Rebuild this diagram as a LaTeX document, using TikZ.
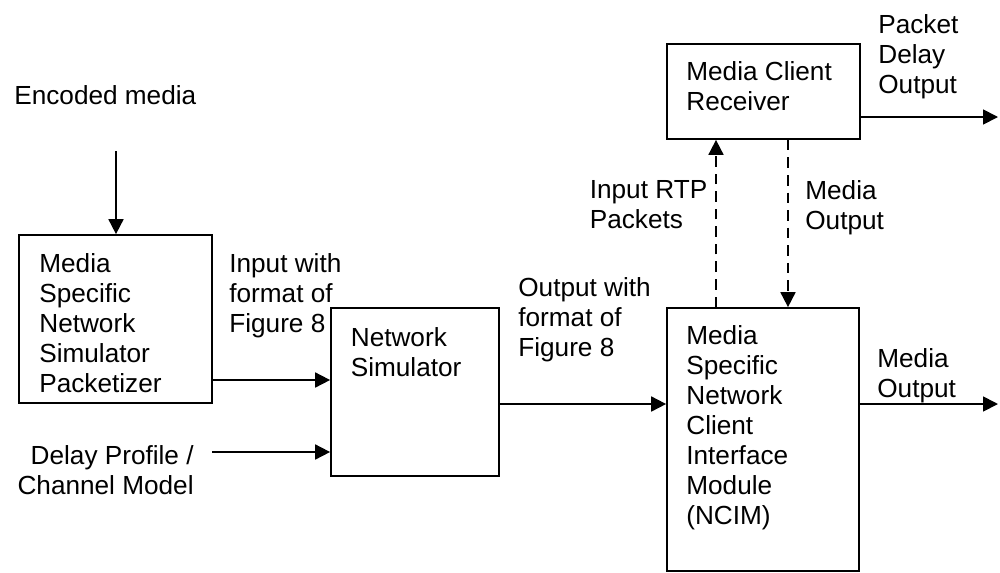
\documentclass[tikz,border=0pt]{standalone}
\usepackage{fontspec}
\setmainfont{Liberation Sans}
\usetikzlibrary{arrows.meta,positioning}

\begin{document}
\begin{tikzpicture}[
    x=0.02cm,y=-0.02cm,
    font=\fontsize{14.9pt}{17.07pt}\selectfont,
    box/.style={draw,line width=1pt,minimum width=3.86cm,inner sep=0pt},
    txt/.style={anchor=north west,align=left,inner sep=0pt},
    arr/.style={-{Triangle[length=0.3cm,width=0.3cm]},line width=1pt},
    dasharr/.style={arr,dash pattern=on 6pt off 4pt}
  ]
    \useasboundingbox (0,0) rectangle (1000,572);

    % blocks
    \node[box,minimum height=3.36cm] (pkt) at (115.5,319) {};
    \node[box,minimum width=3.36cm,minimum height=3.36cm] (netsim) at (415,392) {};
    \node[box,minimum height=1.9cm] (recv) at (763.5,91.5) {};
    \node[box,minimum width=3.84cm,minimum height=5.26cm] (ncim) at (763,439.5) {};

    % block texts
    \node[txt] (pktText) at (39,253) {Media\\Specific\\Network\\Simulator\\Packetizer};
    \node[txt] (netsimText) at (350.5,327) {Network\\Simulator};
    \node[txt] (recvText) at (686,61.5) {Media Client\\Receiver};
    \node[txt] (ncimText) at (686,325) {Media\\Specific\\Network\\Client\\Interface\\Module\\(NCIM)};

    % labels
    \node[txt] (encoded) at (14,85) {Encoded media};
    \node[txt,anchor=north east,align=right] (delayProf) at (194,445) {Delay Profile /\\Channel Model};
    \node[txt] (inFmt) at (229,253) {Input with\\format of\\Figure 8};
    \node[txt] (outFmt) at (518,277.5) {Output with\\format of\\Figure 8};
    \node[txt] (rtpIn) at (589.5,180.5) {Input RTP\\Packets};
    \node[txt] (mediaBack) at (805,180) {Media\\Output};
    \node[txt] (pktDelay) at (878,14) {Packet\\Delay\\Output};
    \node[txt] (mediaOutLbl) at (877,348) {Media\\Output};

    % connector ends
    \coordinate (encTail) at (116,151);
    \coordinate (delayTail) at (212,452);
    \coordinate (rowPkt) at (0,380);
    \coordinate (rowNet) at (0,404);
    \coordinate (delayOut) at (998,117);
    \coordinate (mediaOut) at (998,404);
    \coordinate (colUp) at (716,0);
    \coordinate (colDown) at (788,0);

    \draw[arr] (encTail) -- (pkt.north -| encTail);
    \draw[arr] (pkt.east |- rowPkt) -- (netsim.west |- rowPkt);
    \draw[arr] (delayTail) -- (netsim.west |- delayTail);
    \draw[arr] (netsim.east |- rowNet) -- (ncim.west |- rowNet);
    \draw[arr] (ncim.east |- mediaOut) -- (mediaOut);
    \draw[arr] (recv.east |- delayOut) -- (delayOut);
    \draw[dasharr] (ncim.north -| colUp) -- (recv.south -| colUp);
    \draw[dasharr] (recv.south -| colDown) -- (ncim.north -| colDown);
  \end{tikzpicture}
\end{document}
